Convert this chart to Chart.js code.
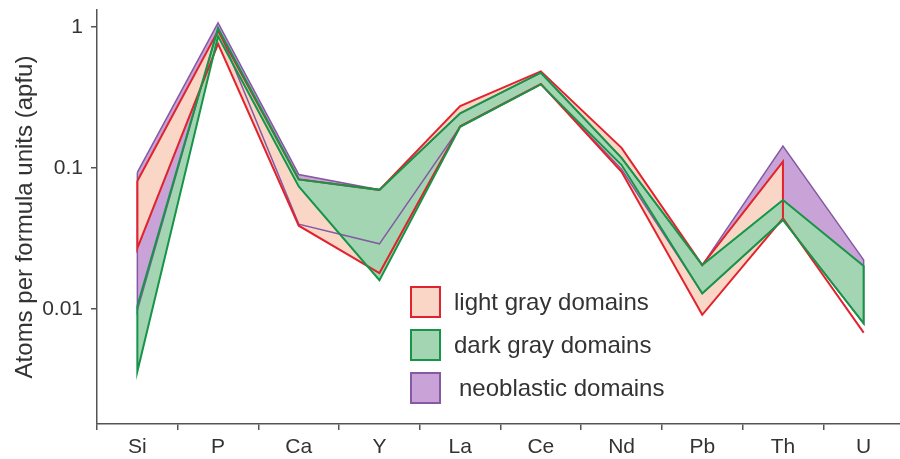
<!DOCTYPE html>
<html lang="en">
<head>
<meta charset="UTF-8">
<title>apfu</title>
<script src="https://cdn.jsdelivr.net/npm/chart.js@4.4.1/dist/chart.umd.min.js"></script>
<style>
  html, body { margin: 0; padding: 0; background: #fff; overflow: hidden; }
  #wrap { width: 900px; height: 459px; overflow: hidden; }
</style>
</head>
<body>
<div id="wrap"><canvas id="myChart" width="906" height="459"></canvas></div>

<script>
'use strict';

const elements = ['Si', 'P', 'Ca', 'Y', 'La', 'Ce', 'Nd', 'Pb', 'Th', 'U'];

// upper / lower envelope of each domain (apfu), [a, b] = vertical step at that element
const lightHigh = [0.081, 0.94, 0.083, 0.07, 0.275, 0.485, 0.139, 0.0205, [0.111, 0.044], null];
const lightLow  = [0.027, 0.76, 0.039, 0.018, 0.198, 0.395, 0.094, 0.0091, 0.044, 0.0068];

const darkHigh = [0.0105, 0.98, 0.083, 0.07, 0.244, 0.474, 0.118, 0.0205, 0.0593, 0.0202];
const darkLow  = [0.0036, 0.86, 0.074, 0.016, 0.196, 0.392, 0.105, 0.0129, 0.0428, 0.0079];

const neoHigh = [0.093, 1.07, 0.09, 0.07, 0.244, 0.474, 0.118, 0.0205, 0.143, 0.0223];
const neoLow  = [0.0098, 0.98, 0.04, 0.029, 0.196, 0.392, 0.098, 0.0129, 0.0428, 0.0079];

const legendLabels = ['light gray domains', 'dark gray domains', 'neoblastic domains'];
const yTicks = [0.01, 0.1, 1];
const yTickLabels = ['0.01', '0.1', '1'];

const FONT = '"Liberation Sans", Arial, sans-serif';
Chart.defaults.font.family = FONT;
Chart.defaults.color = '#333';

// closed outline: along the top edge, back along the bottom edge
function envelope(high, low) {
    const pts = [];
    high.forEach((v, i) => {
        if (v === null) return;
        [].concat(v).forEach(y => pts.push({ x: elements[i], y: y }));
    });
    for (let i = low.length - 1; i >= 0; i--) {
        if (low[i] !== null) pts.push({ x: elements[i], y: low[i] });
    }
    pts.push({ x: pts[0].x, y: pts[0].y });
    return pts;
}

const common = { fill: 'shape', pointRadius: 0, pointHoverRadius: 0, tension: 0, borderJoinStyle: 'miter' };

const datasets = [
    Object.assign({ label: legendLabels[0], data: envelope(lightHigh, lightLow),
        borderColor: '#e1232d', backgroundColor: '#fad6c6', borderWidth: 2, order: 1 }, common),
    Object.assign({ label: legendLabels[1], data: envelope(darkHigh, darkLow),
        borderColor: '#169448', backgroundColor: '#a4d5b2', borderWidth: 2, order: 0 }, common),
    Object.assign({ label: legendLabels[2], data: envelope(neoHigh, neoLow),
        borderColor: '#8559a5', backgroundColor: '#c9a3d7', borderWidth: 1.5, order: 2 }, common)
];

// legend boxes sit inside the plot, under the curves
const boxLegend = {
    id: 'boxLegend',
    afterDraw(chart) {
        const ctx = chart.ctx;
        ctx.save();
        legendLabels.forEach((text, i) => {
            const ds = chart.data.datasets[i];
            const y = 287 + i * 43;
            ctx.fillStyle = ds.backgroundColor;
            ctx.fillRect(411, y, 29, 30);
            ctx.lineWidth = 2;
            ctx.strokeStyle = ds.borderColor;
            ctx.strokeRect(411, y, 29, 30);
            ctx.fillStyle = '#333';
            ctx.font = '24px ' + FONT;
            ctx.textBaseline = 'middle';
            ctx.fillText(text, 454 + (i === 2 ? 5 : 0), y + 16);
        });
        ctx.restore();
    }
};

new Chart(document.getElementById('myChart'), {
    type: 'line',
    data: { labels: elements, datasets: datasets },
    plugins: [boxLegend],
    options: {
        responsive: false,
        animation: false,
        devicePixelRatio: 1,
        layout: { padding: { top: 10, right: 2, left: 0, bottom: 0 } },
        plugins: {
            legend: { display: false },
            tooltip: { enabled: false },
            filler: { drawTime: 'beforeDatasetsDraw' }
        },
        scales: {
            x: {
                type: 'category',
                offset: true,
                afterFit: s => { s.height = 35; s.paddingLeft = 0; s.paddingRight = 0; },
                ticks: { font: { size: 21 }, color: '#333', padding: 5, maxRotation: 0, autoSkip: false },
                grid: { offset: true, drawOnChartArea: false, tickLength: 6, color: '#555', lineWidth: 1.5 },
                border: { color: '#555', width: 1.5 }
            },
            y: {
                type: 'logarithmic',
                min: 0.00153,
                max: 1.32,
                afterBuildTicks: s => { s.ticks = yTicks.map(v => ({ value: v })); },
                afterFit: s => { s.width = 97; s.paddingTop = 0; s.paddingBottom = 0; },
                ticks: { callback: (v, i) => yTickLabels[i], font: { size: 21 }, color: '#333', padding: 8 },
                grid: { drawOnChartArea: false, tickLength: 6, color: '#555', lineWidth: 1.5 },
                border: { color: '#555', width: 1.5 },
                title: {
                    display: true,
                    text: 'Atoms per formula units (apfu)',
                    font: { size: 24 },
                    color: '#333',
                    padding: { top: 11, bottom: 0 }
                }
            }
        }
    }
});
</script>
</body>
</html>
